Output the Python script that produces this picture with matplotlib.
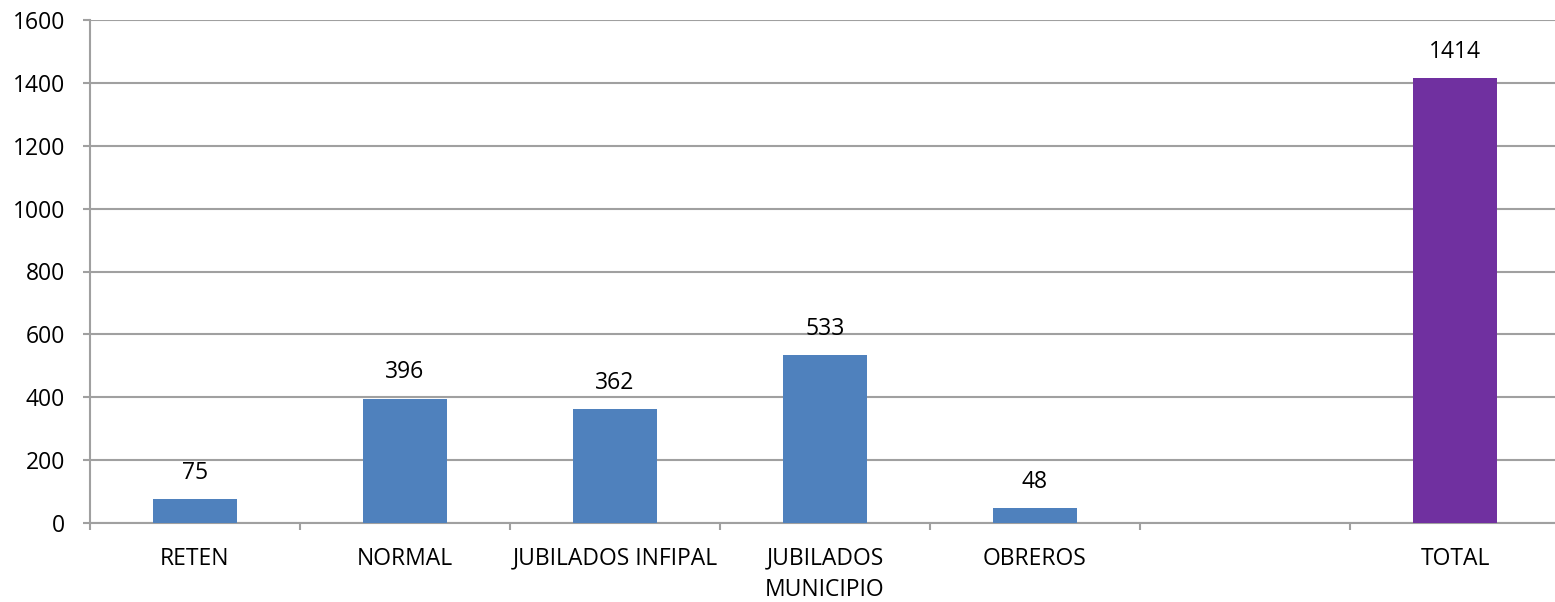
import matplotlib.pyplot as plt
import numpy as np

categories = ["RETEN", "NORMAL", "JUBILADOS INFIPAL", "JUBILADOS\nMUNICIPIO", "OBREROS", "", "TOTAL"]
values = [75, 396, 362, 533, 48, None, 1414]
colors = ["#4F81BD", "#4F81BD", "#4F81BD", "#4F81BD", "#4F81BD", "#4F81BD", "#7030A0"]

plt.rcParams["font.family"] = ["Open Sans", "DejaVu Sans"]

fig = plt.figure(figsize=(15.55, 6.02), dpi=100)
ax = fig.add_axes([90 / 1555, 1 - 523 / 602, 1470 / 1555, 503 / 602])

x = np.arange(len(categories))
for i, v in enumerate(values):
    if v is None:
        continue
    ax.bar(x[i], v, width=0.4, color=colors[i], zorder=3)
    ax.text(x[i], v + 45, str(v), ha="center", va="bottom", fontsize=16.5, color="#000000")

ax.set_xlim(-0.5, len(categories) - 0.5)
ax.set_ylim(0, 1600)
ax.set_yticks(np.arange(0, 1601, 200))
ax.yaxis.grid(True, color="#A0A0A0", linewidth=1.5, zorder=0)

ax.set_xticks(x)
ax.set_xticklabels(categories, fontsize=16.5, linespacing=1.4)
ax.set_xticks(np.arange(-0.5, len(categories)), minor=True)
ax.tick_params(axis="x", which="major", length=0, pad=17)
ax.tick_params(axis="x", which="minor", length=5, width=1.5, color="#A0A0A0")
ax.tick_params(axis="y", length=5, width=1.5, color="#A0A0A0", labelsize=16.5, pad=13)

for side in ["top", "right"]:
    ax.spines[side].set_visible(False)
for side in ["left", "bottom"]:
    ax.spines[side].set_color("#A0A0A0")
    ax.spines[side].set_linewidth(1.5)

fig.savefig("out.png", dpi=100)
